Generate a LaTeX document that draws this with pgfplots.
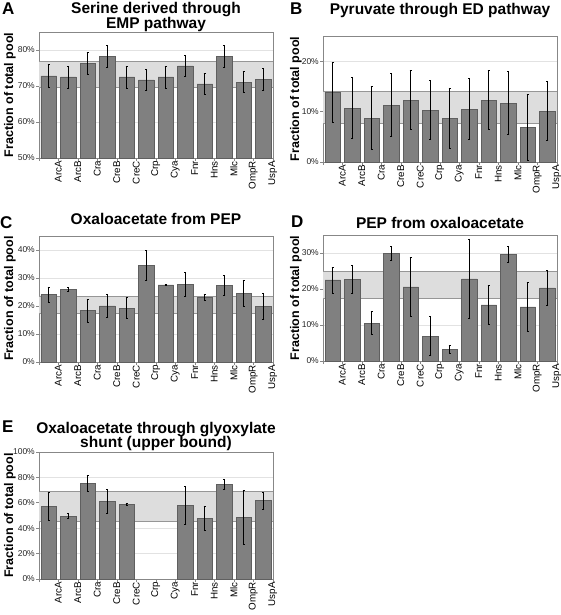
\documentclass[border=0pt]{standalone}
\usepackage{pgfplots}
\pgfplotsset{compat=1.18}
\usepackage{fontspec}
\setmainfont{Liberation Sans}
\definecolor{barfill}{RGB}{128,128,128}
\definecolor{baredge}{RGB}{95,95,95}
\definecolor{bandfill}{RGB}{221,221,221}
\definecolor{bandedge}{RGB}{150,150,150}
\definecolor{gridc}{RGB}{226,226,226}
\definecolor{framec}{RGB}{135,135,135}
\pgfplotsset{
  panel/.style={
    scale only axis, width=234pt, height=126pt, anchor=south west,
    xmin=-0.5, xmax=11.5,
    xtick={0,...,11},
    xticklabels={ArcA,ArcB,Cra,CreB,CreC,Crp,Cya,Fnr,Hns,Mlc,OmpR,UspA},
    minor xtick={-0.5,0.5,...,11.5},
    major x tick style={draw=none},
    minor x tick style={framec, line width=0.6pt},
    minor tick length=3pt,
    major tick length=3pt,
    tick align=outside,
    ytick style={framec, line width=0.6pt},
    xtick pos=bottom, ytick pos=left,
    ymajorgrids, grid style={gridc, line width=0.7pt},
    axis line style={framec, line width=0.8pt},
    /pgf/number format/assume math mode=true,
    xticklabel style={rotate=90, anchor=east, font=\fontsize{9.8}{10}\selectfont, inner sep=0pt, yshift=-9.5pt},
    yticklabel style={font=\fontsize{8.5}{10}\selectfont, text=black!85, inner sep=1pt},
    clip=false,
  },
  bars/.style={ybar, bar width=15.5pt, fill=barfill, draw=baredge, line width=0.6pt,
    error bars/.cd, y dir=both, y explicit,
    error bar style={black, line width=0.8pt},
    error mark options={rotate=90, mark size=1.2pt, black, line width=0.8pt}},
  band/.style={fill=bandfill, draw=none, forget plot},
  bandline/.style={bandedge, line width=0.8pt, forget plot},
}
\newcommand{\ttl}{\fontsize{15.5}{16}\selectfont\bfseries}
\newcommand{\lett}{\fontsize{17}{17}\selectfont\bfseries}
\newcommand{\ylab}{\fontsize{12.5}{13}\selectfont\bfseries}
\begin{document}
\begin{tikzpicture}
\useasboundingbox (0,0) rectangle (560pt,615pt);
% ---------- A ----------
\begin{axis}[panel, at={(39pt,457pt)}, ymin=50, ymax=85, ytick={50,60,70,80},
  yticklabels={50\%,60\%,70\%,80\%}]
\addplot[band] coordinates {(-0.5,69.7) (11.5,69.7) (11.5,76.8) (-0.5,76.8)} -- cycle;
\addplot[bandline] coordinates {(-0.5,69.7) (11.5,69.7)};
\addplot[bandline] coordinates {(-0.5,76.8) (11.5,76.8)};
\addplot[bars] coordinates {
(0,72.8) +- (0,3.1) (1,72.5) +- (0,3.05) (2,76.2) +- (0,3.0) (3,78.3) +- (0,3.05)
(4,72.5) +- (0,3.05) (5,71.7) +- (0,3.0) (6,72.5) +- (0,3.05) (7,75.6) +- (0,3.0)
(8,70.6) +- (0,3.0) (9,78.3) +- (0,3.05) (10,71.1) +- (0,3.0) (11,71.9) +- (0,3.0)};
\end{axis}
% ---------- B ----------
\begin{axis}[panel, at={(323pt,453pt)}, ymin=0, ymax=25, ytick={0,10,20},
  yticklabels={0\%,10\%,20\%}]
\addplot[band] coordinates {(-0.5,7.7) (11.5,7.7) (11.5,14.0) (-0.5,14.0)} -- cycle;
\addplot[bandline] coordinates {(-0.5,7.7) (11.5,7.7)};
\addplot[bandline] coordinates {(-0.5,14.0) (11.5,14.0)};
\addplot[bars] coordinates {
(0,13.8) +- (0,5.9) (1,10.7) +- (0,6.0) (2,8.7) +- (0,6.2) (3,11.3) +- (0,6.2)
(4,12.3) +- (0,5.9) (5,10.3) +- (0,5.9) (6,8.7) +- (0,6.0) (7,10.5) +- (0,6.1)
(8,12.3) +- (0,5.8) (9,11.7) +- (0,6.2) (10,6.9) +- (0,6.5) (11,10.1) +- (0,5.9)};
\end{axis}
% ---------- C ----------
\begin{axis}[panel, at={(39pt,253pt)}, ymin=0, ymax=45, ytick={0,10,20,30,40},
  yticklabels={0\%,10\%,20\%,30\%,40\%}]
\addplot[band] coordinates {(-0.5,17.4) (11.5,17.4) (11.5,23.3) (-0.5,23.3)} -- cycle;
\addplot[bandline] coordinates {(-0.5,17.4) (11.5,17.4)};
\addplot[bandline] coordinates {(-0.5,23.3) (11.5,23.3)};
\addplot[bars] coordinates {
(0,24.0) +- (0,2.8) (1,25.9) +- (0,0.7) (2,18.3) +- (0,4.0) (3,20.0) +- (0,4.0)
(4,19.2) +- (0,3.7) (5,34.4) +- (0,5.4) (6,27.5) +- (0,0.2) (7,27.7) +- (0,4.3)
(8,23.1) +- (0,1.2) (9,27.3) +- (0,3.6) (10,24.5) +- (0,4.5) (11,19.9) +- (0,4.6)};
\end{axis}
% ---------- D ----------
\begin{axis}[panel, at={(323pt,254pt)}, ymin=0, ymax=35, ytick={0,10,20,30},
  yticklabels={0\%,10\%,20\%,30\%}]
\addplot[band] coordinates {(-0.5,17.5) (11.5,17.5) (11.5,25.0) (-0.5,25.0)} -- cycle;
\addplot[bandline] coordinates {(-0.5,17.5) (11.5,17.5)};
\addplot[bandline] coordinates {(-0.5,25.0) (11.5,25.0)};
\addplot[bars] coordinates {
(0,22.5) +- (0,3.6) (1,22.7) +- (0,3.9) (2,10.5) +- (0,3.2) (3,29.9) +- (0,2.0)
(4,20.6) +- (0,8.1) (5,6.9) +- (0,5.4) (6,3.3) +- (0,1.1) (7,22.8) +- (0,11.1)
(8,15.6) +- (0,5.4) (9,29.7) +- (0,2.2) (10,15.0) +- (0,6.8) (11,20.3) +- (0,4.8)};
\end{axis}
% ---------- E ----------
\begin{axis}[panel, at={(39pt,36pt)}, height=127pt, ymin=0, ymax=100, ytick={0,20,40,60,80,100},
  yticklabels={0\%,20\%,40\%,60\%,80\%,100\%}]
\addplot[band] coordinates {(-0.5,45.1) (11.5,45.1) (11.5,68.8) (-0.5,68.8)} -- cycle;
\addplot[bandline] coordinates {(-0.5,45.1) (11.5,45.1)};
\addplot[bandline] coordinates {(-0.5,68.8) (11.5,68.8)};
\addplot[bars] coordinates {
(0,57.0) +- (0,11.2) (1,49.6) +- (0,2.2) (2,75.1) +- (0,6.4) (3,60.9) +- (0,9.6)
(4,58.8) +- (0,1.0) (7,57.7) +- (0,15.1)
(8,47.8) +- (0,9.7) (9,74.3) +- (0,4.0) (10,48.6) +- (0,21.4) (11,61.7) +- (0,6.8)};
\end{axis}
% ---------- titles ----------
\node[anchor=base, font=\ttl] at (156pt,601.7pt) {Serine derived through};
\node[anchor=base, font=\ttl] at (156pt,586pt) {EMP pathway};
\node[anchor=base, font=\ttl] at (440pt,600pt) {Pyruvate through ED pathway};
\node[anchor=base, font=\ttl] at (156pt,390pt) {Oxaloacetate from PEP};
\node[anchor=base, font=\ttl] at (440pt,386pt) {PEP from oxaloacetate};
\node[anchor=base, font=\ttl] at (156pt,181pt) {Oxaloacetate through glyoxylate};
\node[anchor=base, font=\ttl] at (156pt,167pt) {shunt (upper bound)};
% ---------- letters ----------
\node[anchor=base west, font=\lett, inner sep=0pt] at (2pt,600pt) {A};
\node[anchor=base west, font=\lett, inner sep=0pt] at (290pt,600pt) {B};
\node[anchor=base west, font=\lett, inner sep=0pt] at (0pt,386pt) {C};
\node[anchor=base west, font=\lett, inner sep=0pt] at (291pt,387pt) {D};
\node[anchor=base west, font=\lett, inner sep=0pt] at (2pt,182pt) {E};
% ---------- y labels ----------
\node[rotate=90, font=\ylab, inner sep=0pt] at (10pt,520pt) {Fraction of total pool};
\node[rotate=90, font=\ylab, inner sep=0pt] at (296pt,516pt) {Fraction of total pool};
\node[rotate=90, font=\ylab, inner sep=0pt] at (10pt,316.5pt) {Fraction of total pool};
\node[rotate=90, font=\ylab, inner sep=0pt] at (296pt,317pt) {Fraction of total pool};
\node[rotate=90, font=\ylab, inner sep=0pt] at (10pt,99.5pt) {Fraction of total pool};
\end{tikzpicture}
\end{document}
